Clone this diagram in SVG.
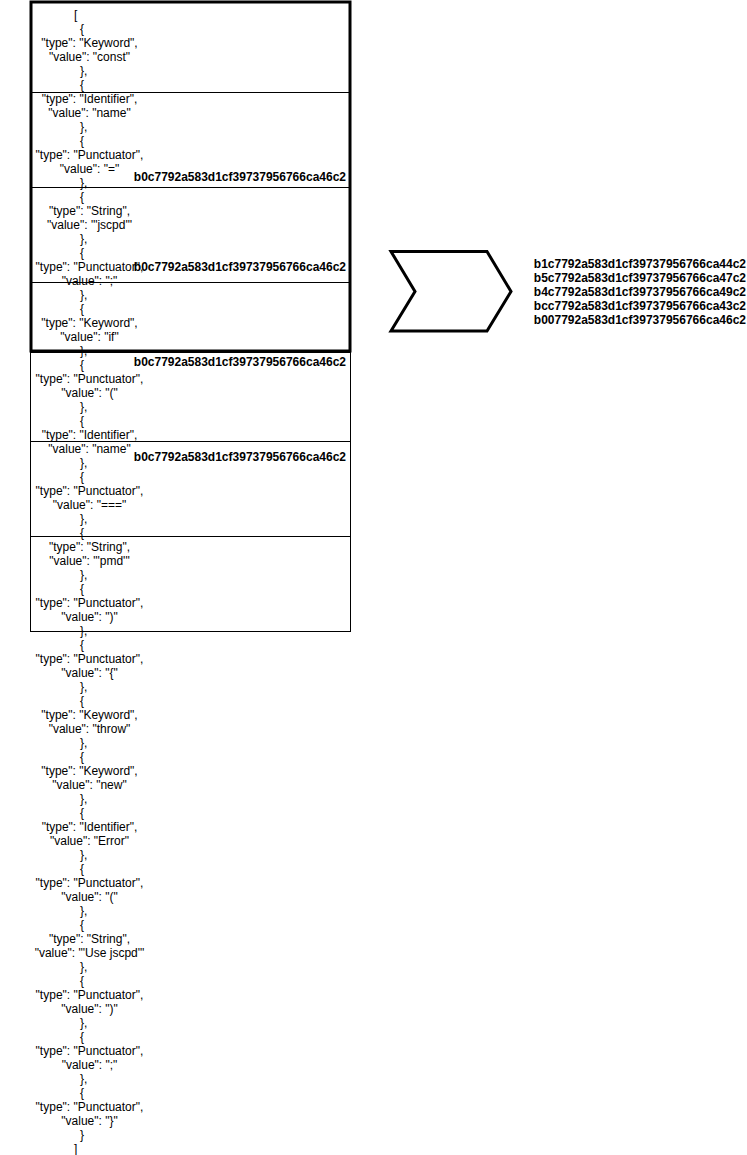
<svg xmlns="http://www.w3.org/2000/svg" width="747" height="1155" viewBox="0 0 747 1155">
<style>
text{font-family:"Liberation Sans",Arial,sans-serif;font-size:12px;fill:#000}
.c{text-anchor:middle}
.b{text-anchor:start}
.h{font-weight:bold;text-anchor:end}
.thin{fill:none;stroke:#000;stroke-width:1}
.thick{fill:none;stroke:#000;stroke-width:3}
</style>
<rect width="747" height="1155" fill="#fff"/>
<g id="tokens">
<text class="b" x="74" y="19">[</text>
<text class="b" x="80" y="33">{</text><text class="c" x="89.5" y="47">"type": "Keyword",</text><text class="c" x="89.5" y="61">"value": "const"</text><text class="b" x="80" y="75">},</text>
<text class="b" x="80" y="89">{</text><text class="c" x="89.5" y="103">"type": "Identifier",</text><text class="c" x="89.5" y="117">"value": "name"</text><text class="b" x="80" y="131">},</text>
<text class="b" x="80" y="145">{</text><text class="c" x="89.5" y="159">"type": "Punctuator",</text><text class="c" x="89.5" y="173">"value": "="</text><text class="b" x="80" y="187">},</text>
<text class="b" x="80" y="201">{</text><text class="c" x="89.5" y="215">"type": "String",</text><text class="c" x="89.5" y="229">"value": "'jscpd'"</text><text class="b" x="80" y="243">},</text>
<text class="b" x="80" y="257">{</text><text class="c" x="89.5" y="271">"type": "Punctuator",</text><text class="c" x="89.5" y="285">"value": ";"</text><text class="b" x="80" y="299">},</text>
<text class="b" x="80" y="313">{</text><text class="c" x="89.5" y="327">"type": "Keyword",</text><text class="c" x="89.5" y="341">"value": "if"</text><text class="b" x="80" y="355">},</text>
<text class="b" x="80" y="369">{</text><text class="c" x="89.5" y="383">"type": "Punctuator",</text><text class="c" x="89.5" y="397">"value": "("</text><text class="b" x="80" y="411">},</text>
<text class="b" x="80" y="425">{</text><text class="c" x="89.5" y="439">"type": "Identifier",</text><text class="c" x="89.5" y="453">"value": "name"</text><text class="b" x="80" y="467">},</text>
<text class="b" x="80" y="481">{</text><text class="c" x="89.5" y="495">"type": "Punctuator",</text><text class="c" x="89.5" y="509">"value": "==="</text><text class="b" x="80" y="523">},</text>
<text class="b" x="80" y="537">{</text><text class="c" x="89.5" y="551">"type": "String",</text><text class="c" x="89.5" y="565">"value": "'pmd'"</text><text class="b" x="80" y="579">},</text>
<text class="b" x="80" y="593">{</text><text class="c" x="89.5" y="607">"type": "Punctuator",</text><text class="c" x="89.5" y="621">"value": ")"</text><text class="b" x="80" y="635">},</text>
<text class="b" x="80" y="649">{</text><text class="c" x="89.5" y="663">"type": "Punctuator",</text><text class="c" x="89.5" y="677">"value": "{"</text><text class="b" x="80" y="691">},</text>
<text class="b" x="80" y="705">{</text><text class="c" x="89.5" y="719">"type": "Keyword",</text><text class="c" x="89.5" y="733">"value": "throw"</text><text class="b" x="80" y="747">},</text>
<text class="b" x="80" y="761">{</text><text class="c" x="89.5" y="775">"type": "Keyword",</text><text class="c" x="89.5" y="789">"value": "new"</text><text class="b" x="80" y="803">},</text>
<text class="b" x="80" y="817">{</text><text class="c" x="89.5" y="831">"type": "Identifier",</text><text class="c" x="89.5" y="845">"value": "Error"</text><text class="b" x="80" y="859">},</text>
<text class="b" x="80" y="873">{</text><text class="c" x="89.5" y="887">"type": "Punctuator",</text><text class="c" x="89.5" y="901">"value": "("</text><text class="b" x="80" y="915">},</text>
<text class="b" x="80" y="929">{</text><text class="c" x="89.5" y="943">"type": "String",</text><text class="c" x="89.5" y="957">"value": "'Use jscpd'"</text><text class="b" x="80" y="971">},</text>
<text class="b" x="80" y="985">{</text><text class="c" x="89.5" y="999">"type": "Punctuator",</text><text class="c" x="89.5" y="1013">"value": ")"</text><text class="b" x="80" y="1027">},</text>
<text class="b" x="80" y="1041">{</text><text class="c" x="89.5" y="1055">"type": "Punctuator",</text><text class="c" x="89.5" y="1069">"value": ";"</text><text class="b" x="80" y="1083">},</text>
<text class="b" x="80" y="1097">{</text><text class="c" x="89.5" y="1111">"type": "Punctuator",</text><text class="c" x="89.5" y="1125">"value": "}"</text><text class="b" x="80" y="1139">}</text>
<text class="b" x="74" y="1153">]</text>
</g>
<g id="block1"><rect class="thin" x="30.5" y="92.5" width="320" height="95"/><text class="h" x="346" y="181">b0c7792a583d1cf39737956766ca46c2</text></g>
<g id="block2"><rect class="thin" x="30.5" y="187.5" width="320" height="95"/><text class="h" x="346" y="271">b0c7792a583d1cf39737956766ca46c2</text></g>
<g id="block3"><rect class="thin" x="30.5" y="282.5" width="320" height="70"/></g>
<g id="block4"><rect class="thin" x="30.5" y="352.5" width="320" height="89"/><text class="h" x="346" y="366">b0c7792a583d1cf39737956766ca46c2</text></g>
<g id="block5"><rect class="thin" x="30.5" y="441.5" width="320" height="95"/><text class="h" x="346" y="461">b0c7792a583d1cf39737956766ca46c2</text></g>
<g id="block6"><rect class="thin" x="30.5" y="536.5" width="320" height="95"/></g>
<g id="selection"><rect class="thick" x="31" y="2" width="319" height="349"/></g>
<g id="connectors"><polygon class="thick" points="391,251.5 487,251.5 511,291.5 487,331 391,331 415,291.5"/></g>
<g id="result">
<text class="h" x="746" y="268">b1c7792a583d1cf39737956766ca44c2</text>
<text class="h" x="746" y="282">b5c7792a583d1cf39737956766ca47c2</text>
<text class="h" x="746" y="296">b4c7792a583d1cf39737956766ca49c2</text>
<text class="h" x="746" y="310">bcc7792a583d1cf39737956766ca43c2</text>
<text class="h" x="746" y="324">b007792a583d1cf39737956766ca46c2</text>
</g>
</svg>
